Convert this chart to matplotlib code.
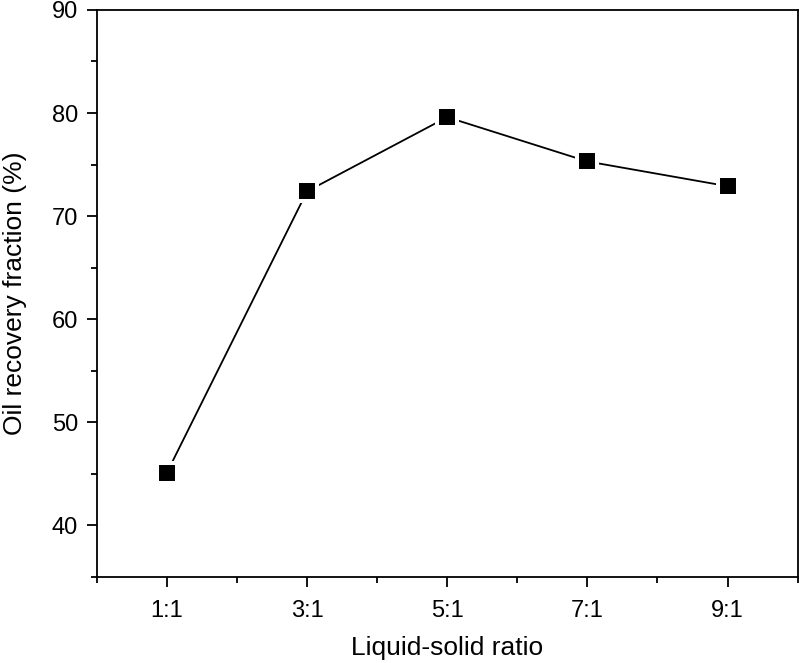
import matplotlib
matplotlib.use("Agg")
import matplotlib.pyplot as plt
from matplotlib.ticker import MultipleLocator, FixedLocator

plt.rcParams['font.family'] = ['Liberation Sans', 'DejaVu Sans']

# data
ratio_labels = ["1:1", "3:1", "5:1", "7:1", "9:1"]
ratio_pos = [1, 3, 5, 7, 9]
recovery = [45.1, 72.4, 79.6, 75.3, 72.9]

fig = plt.figure(figsize=(8, 6.63), dpi=100)
ax = fig.add_axes([0.121, 0.13, 0.876, 0.855])

ax.plot(ratio_pos, recovery, color='black', lw=1.3, zorder=2)
# white edge gives the small gap between line and marker
ax.plot(ratio_pos, recovery, ls='none', marker='s', ms=14.4,
        mfc='black', mec='white', mew=2.9, zorder=3)

ax.set_xlim(0, 10)
ax.set_ylim(35, 90)
ax.xaxis.set_major_locator(FixedLocator(ratio_pos))
ax.set_xticklabels(ratio_labels)
ax.xaxis.set_minor_locator(FixedLocator([0, 2, 4, 6, 8, 10]))
ax.yaxis.set_major_locator(MultipleLocator(10))
ax.yaxis.set_minor_locator(MultipleLocator(5))

ax.tick_params(which='both', direction='out', width=1.3, labelsize=17,
               top=False, right=False)
ax.tick_params(which='major', length=7.5)
ax.tick_params(which='minor', length=4)
ax.tick_params(axis='x', which='major', pad=9)
ax.tick_params(axis='y', which='major', pad=6)
for s in ax.spines.values():
    s.set_linewidth(1.3)

ax.set_xlabel("Liquid-solid ratio", fontsize=19, labelpad=10)
ax.set_ylabel("Oil recovery fraction (%)", fontsize=19, labelpad=18)

fig.savefig("out.png", dpi=100)
